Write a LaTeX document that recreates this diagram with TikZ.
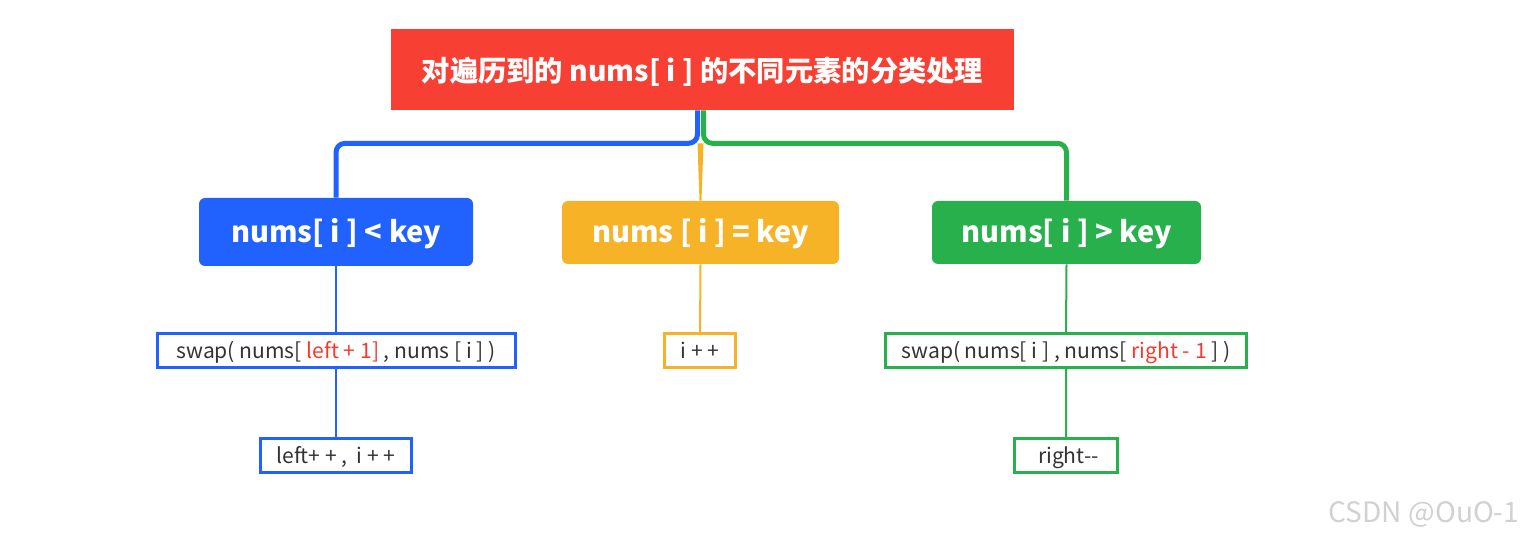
\documentclass[tikz,border=0pt]{standalone}
\usepackage{fontspec}
\setmainfont{Noto Sans CJK SC}
\usetikzlibrary{calc}
\definecolor{rootred}{HTML}{F74033}
\definecolor{ltblue}{HTML}{2162FF}
\definecolor{eqyellow}{HTML}{F6B328}
\definecolor{gtgreen}{HTML}{27B04B}
\definecolor{hlred}{HTML}{F53B2F}
\definecolor{txtgray}{HTML}{333333}
\newcommand{\px}{0.02cm}
\newcommand{\hl}[1]{\textcolor{hlred}{#1}}
\tikzset{
  rootbox/.style={fill=rootred,text=white,inner sep=0pt,font=\fontsize{16.1pt}{19pt}\selectfont\bfseries,
    text height=25*\px,text depth=0pt,minimum width=623*\px,minimum height=81*\px},
  casebox/.style={rounded corners=6*\px,text=white,inner sep=0pt,font=\fontsize{16.5pt}{19pt}\selectfont\bfseries,
    text height=21*\px,text depth=0pt,minimum height=63*\px},
  stepbox/.style={fill=white,line width=3*\px,text=txtgray,inner sep=0pt,font=\fontsize{12pt}{14pt}\selectfont,
    text height=15*\px,text depth=0pt,minimum height=34*\px},
  branch/.style={line width=5*\px,rounded corners=9*\px},
  twig/.style={line width=2*\px},
}

\begin{document}
\begin{tikzpicture}[x=\px,y=-\px]
  \useasboundingbox (0,0) rectangle (1524,540);
  \node[rootbox] (root) at (702.5,69.5) {对遍历到的 nums[ i ] 的不同元素的分类处理};
  \node[casebox,fill=ltblue,minimum width=274*\px,minimum height=68*\px] (lt) at (336,232) {nums[ i ] < key};
  \node[casebox,fill=eqyellow,minimum width=277*\px] (eq) at (700.5,232.5) {nums [ i ] = key};
  \node[casebox,fill=gtgreen,minimum width=269*\px] (gt) at (1066.5,232.5) {nums[ i ] > key};
  % first level
  \fill[eqyellow] ($(root.south)+(-5,33)$) -- ($(root.south)+(1,33)$) -- ($(eq.north)+(1,0)$) -- ($(eq.north)+(-1,0)$) -- cycle;
  \draw[branch,ltblue] (root.south) ++(-5,0) -- ++(0,33) -| (lt.north);
  \draw[branch,gtgreen] (root.south) ++(1,0) -- ++(0,33) -| (gt.north);
  % second level
  \node[stepbox,draw=ltblue,minimum width=358*\px] (lta) at (336,350.5) {swap( nums[ \hl{left + 1]} , nums [ i ] )};
  \node[stepbox,draw=eqyellow,minimum width=71*\px] (eqa) at (700,350.5) {i + +};
  \node[stepbox,draw=gtgreen,minimum width=361*\px] (gta) at (1066,350.5) {swap( nums[ i ] , nums[ \hl{right - 1} ] )};
  \node[stepbox,draw=ltblue,minimum width=151*\px] (ltb) at (336,455.5) {left+ + ,\ \ i + +};
  \node[stepbox,draw=gtgreen,minimum width=103*\px] (gtb) at (1066,455.5) {\ right-{}-};
  \draw[twig,ltblue] (lt.south) -- (lta.north) (lta.south) -- (ltb.north);
  \draw[twig,eqyellow] (eq.south) -- (eqa.north);
  \draw[twig,gtgreen] (gt.south) -- (gta.north) (gta.south) -- (gtb.north);
  \node[text=black!18,font=\fontsize{16pt}{19pt}\selectfont] (mark) at (1424,514) {CSDN @OuO-1};
\end{tikzpicture}
\end{document}
